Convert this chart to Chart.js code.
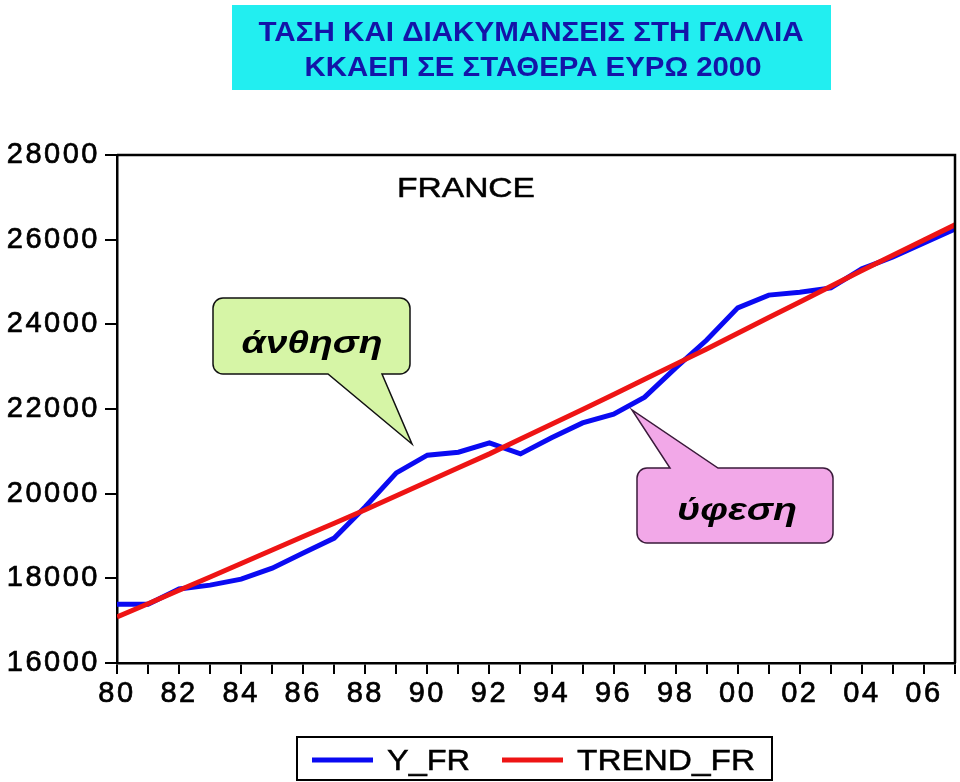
<!DOCTYPE html>
<html>
<head>
<meta charset="utf-8">
<script src="https://cdn.jsdelivr.net/npm/chart.js@4.4.1/dist/chart.umd.min.js"></script>
<style>
html, body { margin: 0; padding: 0; background: #fff; }
#wrap { width: 960px; height: 782px; position: relative; }
</style>
</head>
<body>
<div id="wrap"><canvas id="myChart"></canvas></div>
<script>
// Datos (PIB Francia, euros constantes 2000)
const years = [1980,1981,1982,1983,1984,1985,1986,1987,1988,1989,1990,1991,1992,1993,
               1994,1995,1996,1997,1998,1999,2000,2001,2002,2003,2004,2005,2006,2007];
const yFr = [17390,17390,17750,17840,17980,18240,18600,18950,19690,20490,20910,20980,21200,20940,
             21320,21670,21880,22280,22970,23630,24390,24690,24760,24860,25310,25590,25920,26250];
const trendFr = [17090,17400,17720,18030,18350,18670,18990,19300,19620,19950,20280,20610,20940,21290,
                 21640,21990,22340,22700,23060,23420,23790,24160,24530,24900,25270,25630,25990,26350];
const seriesNames = ['Y_FR', 'TREND_FR'];
const yTickValues = [16000, 18000, 20000, 22000, 24000, 26000, 28000];

const titleLines = ['ΤΑΣΗ ΚΑΙ ΔΙΑΚΥΜΑΝΣΕΙΣ ΣΤΗ ΓΑΛΛΙΑ', 'ΚΚΑΕΠ ΣΕ ΣΤΑΘΕΡΑ ΕΥΡΩ 2000'];

const FONT = "'Liberation Sans', Arial, sans-serif";

// Texto escalado en horizontal hasta un ancho dado (el original esta estirado)
function fitText(ctx, text, cx, baseY, font, width, color, stroke) {
    ctx.save();
    ctx.letterSpacing = '0px';
    ctx.font = font;
    ctx.fillStyle = color;
    ctx.textAlign = 'center';
    ctx.textBaseline = 'alphabetic';
    const w = ctx.measureText(text).width;
    ctx.translate(cx, baseY);
    ctx.scale(width / w, 1);
    ctx.fillText(text, 0, 0);
    if (stroke) {
        ctx.strokeStyle = color;
        ctx.lineWidth = stroke;
        ctx.strokeText(text, 0, 0);
    }
    ctx.restore();
}

// Bocadillo con punta
function callout(ctx, x0, y0, x1, y1, r, tail, fill, stroke) {
    ctx.save();
    ctx.beginPath();
    ctx.moveTo(x0 + r, y0);
    if (tail.edge === 'top') {
        ctx.lineTo(tail.a, y0);
        ctx.lineTo(tail.tx, tail.ty);
        ctx.lineTo(tail.b, y0);
    }
    ctx.lineTo(x1 - r, y0);
    ctx.arcTo(x1, y0, x1, y0 + r, r);
    ctx.lineTo(x1, y1 - r);
    ctx.arcTo(x1, y1, x1 - r, y1, r);
    if (tail.edge === 'bottom') {
        ctx.lineTo(tail.b, y1);
        ctx.lineTo(tail.tx, tail.ty);
        ctx.lineTo(tail.a, y1);
    }
    ctx.lineTo(x0 + r, y1);
    ctx.arcTo(x0, y1, x0, y1 - r, r);
    ctx.lineTo(x0, y0 + r);
    ctx.arcTo(x0, y0, x0 + r, y0, r);
    ctx.closePath();
    ctx.fillStyle = fill;
    ctx.fill();
    ctx.lineWidth = 1.5;
    ctx.strokeStyle = stroke;
    ctx.stroke();
    ctx.restore();
}

const decoraciones = {
    id: 'decoraciones',
    beforeDraw(chart) {
        // los numeros de los ejes van mas separados
        chart.ctx.letterSpacing = '2.5px';
    },
    afterDatasetsDraw(chart) {
        const ctx = chart.ctx;
        const a = chart.chartArea;
        // marco superior y derecho
        ctx.save();
        ctx.strokeStyle = '#000';
        ctx.lineWidth = 2.5;
        ctx.beginPath();
        ctx.moveTo(a.left, a.top);
        ctx.lineTo(a.right, a.top);
        ctx.lineTo(a.right, a.bottom);
        ctx.stroke();
        ctx.restore();
    },
    afterDraw(chart) {
        const ctx = chart.ctx;
        ctx.letterSpacing = '0px';

        // titulo
        ctx.fillStyle = '#22EEF0';
        ctx.fillRect(232, 5, 599, 85);
        fitText(ctx, titleLines[0], 531, 41, 'bold 28px ' + FONT, 545, '#1414A8');
        fitText(ctx, titleLines[1], 533, 76, 'bold 28px ' + FONT, 457, '#1414A8');

        fitText(ctx, 'FRANCE', 466, 197, '28px ' + FONT, 138, '#000', 0.5);

        // bocadillos
        callout(ctx, 213, 298, 410, 374, 10,
            {edge: 'bottom', a: 328, b: 382, tx: 412, ty: 444}, '#D6F5A6', '#111');
        fitText(ctx, 'άνθηση', 312, 353, 'italic bold 31px ' + FONT, 141, '#000');
        callout(ctx, 637, 468, 833, 543, 10,
            {edge: 'top', a: 670, b: 718, tx: 632, ty: 410}, '#F2A8E8', '#3A1A3A');
        fitText(ctx, 'ύφεση', 737, 520, 'italic bold 31px ' + FONT, 120, '#000');

        // leyenda
        ctx.save();
        ctx.strokeStyle = '#000';
        ctx.lineWidth = 2;
        ctx.strokeRect(297, 737, 475, 43);
        const ds = chart.data.datasets;
        const lx = [[312, 373, 428.5, 83], [502, 563, 666, 178]];
        ds.forEach((d, i) => {
            ctx.strokeStyle = d.borderColor;
            ctx.lineWidth = 5;
            ctx.beginPath();
            ctx.moveTo(lx[i][0], 760);
            ctx.lineTo(lx[i][1], 760);
            ctx.stroke();
            fitText(ctx, d.label, lx[i][2], 770, '30px ' + FONT, lx[i][3], '#000', 0.5);
        });
        ctx.restore();
    }
};

const cnv = document.getElementById('myChart');

new Chart(cnv, {
    type: 'line',
    data: {
        datasets: [
            {
                label: seriesNames[0],
                data: years.map((y, i) => ({x: y, y: yFr[i]})),
                borderColor: '#0A0AF2',
                borderWidth: 5,
                pointRadius: 0,
                tension: 0,
                order: 1
            },
            {
                label: seriesNames[1],
                data: years.map((y, i) => ({x: y, y: trendFr[i]})),
                borderColor: '#EE1414',
                borderWidth: 5,
                pointRadius: 0,
                tension: 0,
                order: 0
            }
        ]
    },
    options: {
        responsive: true,
        maintainAspectRatio: false,
        animation: false,
        layout: { padding: { top: 155, right: 5, left: 0, bottom: 59 } },
        plugins: {
            legend: { display: false },
            title: { display: false },
            tooltip: { enabled: false }
        },
        scales: {
            x: {
                type: 'linear',
                min: years[0],
                max: years[years.length - 1],
                afterFit: s => { s.height = 60; },
                ticks: {
                    stepSize: 1,
                    autoSkip: false,
                    maxRotation: 0,
                    padding: 3,
                    color: '#000',
                    textStrokeColor: '#000',
                    textStrokeWidth: 0.7,
                    font: { family: FONT, size: 29 },
                    callback: v => (v % 2 === 0 ? String(v % 100).padStart(2, '0') : '')
                },
                grid: { drawOnChartArea: false, drawTicks: true, tickLength: 11, color: '#000', lineWidth: 2 },
                border: { color: '#000', width: 2.5 }
            },
            y: {
                min: yTickValues[0],
                max: yTickValues[yTickValues.length - 1],
                afterFit: s => { s.width = 117; },
                afterBuildTicks: s => { s.ticks = yTickValues.map(v => ({value: v})); },
                ticks: {
                    padding: 5,
                    color: '#000',
                    textStrokeColor: '#000',
                    textStrokeWidth: 0.7,
                    font: { family: FONT, size: 29 },
                    callback: v => String(v)
                },
                grid: { drawOnChartArea: false, drawTicks: true, tickLength: 12, color: '#000', lineWidth: 2 },
                border: { color: '#000', width: 2.5 }
            }
        }
    },
    plugins: [decoraciones]
});
</script>
</body>
</html>
